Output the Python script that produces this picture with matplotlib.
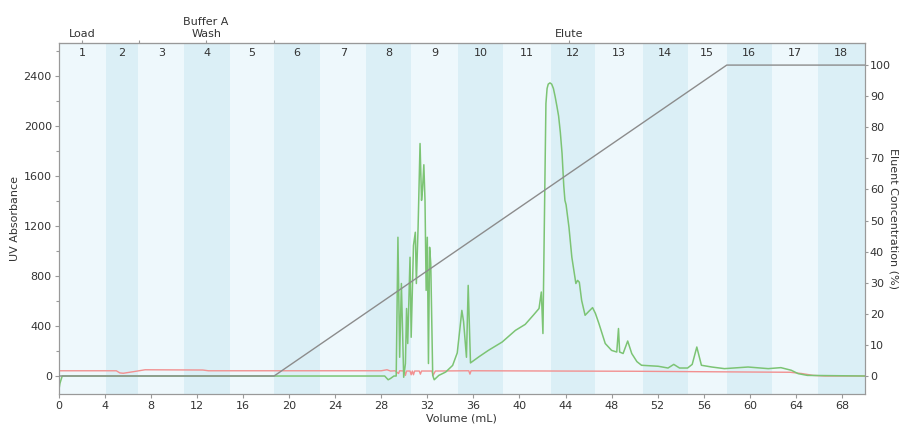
import matplotlib
matplotlib.use("Agg")
import matplotlib.pyplot as plt
from matplotlib.ticker import FixedLocator
import matplotlib.transforms as mtransforms

# ---------------- data ----------------
fraction_edges = [0, 4.1, 6.9, 10.9, 14.85, 18.7, 22.7, 26.7, 30.6, 34.7, 38.6,
                  42.7, 46.6, 50.7, 54.6, 58.0, 61.9, 65.9, 70]
fraction_labels = [str(i) for i in range(1, 19)]

stage_positions = [2.0, 12.8, 44.3]
stage_labels = ["Load", "Buffer A\nWash", "Elute"]
stage_bounds = [7.0, 18.7]

green_x = [0, 0.1, 0.3, 28.3, 28.6, 28.8, 29.1, 29.3, 29.45, 29.6, 29.75, 29.95,
           30.1, 30.2, 30.3, 30.5, 30.6, 30.8, 30.96, 31.05, 31.2, 31.37, 31.5,
           31.58, 31.7, 31.8, 31.9, 32.0, 32.1, 32.2, 32.3, 32.47, 32.6, 33.0,
           33.6, 34.2, 34.6, 34.85, 35.0, 35.15, 35.4, 35.55, 35.75, 36.5, 37.3,
           38.5, 39.65, 40.5, 41.2, 41.7, 41.9, 42.04, 42.2, 42.3, 42.4, 42.5,
           42.65, 42.8, 42.95, 43.1, 43.25, 43.4, 43.55, 43.7, 43.85, 43.95,
           44.05, 44.3, 44.55, 44.9, 45.05, 45.2, 45.4, 45.7, 46.0, 46.35, 46.6,
           46.9, 47.45, 48.0, 48.45, 48.6, 48.7, 49.0, 49.4, 49.75, 50.2, 50.6,
           52.05, 52.9, 53.4, 53.9, 54.6, 55.0, 55.4, 55.8, 56.7, 57.8, 59.85,
           61.6, 62.7, 63.6, 64.2, 65.0, 70]
green_y = [-120, -60, 0, 0, -30, -20, 0, 0, 1110, 150, 740, -10,
           100, 540, 260, 950, 310, 1045, 1150, 740, 1190, 1860, 1405,
           1485, 1690, 1405, 685, 1110, 100, 1030, 900, 5, -30, 5,
           32, 85, 185, 395, 525, 435, 150, 725, 105, 155, 205,
           272, 365, 413, 486, 540, 672, 340, 1485, 2180, 2300, 2335,
           2345, 2335, 2300, 2235, 2160, 2080, 1950, 1780, 1520, 1405,
           1370, 1190, 950, 740, 765, 750, 605, 486, 515, 547, 500,
           420, 260, 205, 192, 380, 192, 180, 280, 180, 115, 86,
           78, 64, 93, 64, 64, 93, 232, 86, 72, 59, 72,
           59, 67, 46, 19, 5, 0]

red_x = [0, 5.0, 5.3, 5.6, 6.5, 7.5, 12.5, 13.0, 28.0, 28.5, 28.8, 29.2, 29.5,
         29.6, 30.0, 30.1, 30.2, 30.5, 30.6, 30.7, 30.8, 30.9, 31.3, 31.4, 31.5,
         32.4, 32.5, 32.7, 35.6, 35.7, 35.8, 50.0, 60.0, 63.5, 64.5, 65.5, 66.5, 70]
red_y = [42, 42, 25, 22, 35, 50, 48, 42, 42, 50, 40, 42, 20,
         42, 40, 5, 40, 40, 10, 40, 10, 40, 40, 15, 40,
         40, 5, 40, 42, 15, 42, 38, 32, 30, 20, 5, 0, 0]

gradient_x = [0, 18.7, 58.0, 70]
gradient_y = [0, 0, 100, 100]

# ---------------- figure ----------------
plt.rcParams['font.family'] = ['DejaVu Sans']
fig = plt.figure(figsize=(9.01, 4.25), dpi=100)
ax = fig.add_axes([0.0652, 0.0729, 0.8948, 0.8259])
ax2 = ax.twinx()

light = '#eef8fc'
dark = '#dbeff6'
for i in range(len(fraction_edges) - 1):
    ax.axvspan(fraction_edges[i], fraction_edges[i + 1],
               color=light if i % 2 == 0 else dark, lw=0, zorder=0)

trans = mtransforms.blended_transform_factory(ax.transData, ax.transAxes)
for i, lab in enumerate(fraction_labels):
    cx = (fraction_edges[i] + fraction_edges[i + 1]) / 2
    ax.text(cx, 0.972, lab, transform=trans, ha='center', va='center',
            fontsize=8, color='#333333', zorder=5)

ax.plot(red_x, red_y, color='#f29090', lw=1.0, zorder=3)
ax.plot(green_x, green_y, color='#7cc474', lw=1.1, zorder=4)
ax2.plot(gradient_x, gradient_y, color='#8c8c8c', lw=1.0, zorder=3)

ax.set_xlim(0, 70)
ax.set_ylim(-144, 2664)
ax2.set_ylim(-5.8, 107.1)

ax.xaxis.set_major_locator(FixedLocator(list(range(0, 69, 4))))
ax.yaxis.set_major_locator(FixedLocator(list(range(0, 2401, 400))))
ax.yaxis.set_minor_locator(FixedLocator(list(range(200, 2601, 400))))
ax2.yaxis.set_major_locator(FixedLocator(list(range(0, 101, 10))))

spine_c = '#999999'
for a in (ax, ax2):
    for s in a.spines.values():
        s.set_color(spine_c)
        s.set_linewidth(0.8)
    a.tick_params(colors=spine_c, labelcolor='#333333', labelsize=8,
                  length=3, width=0.8, pad=2)
    a.tick_params(which='minor', colors=spine_c, length=2, width=0.8)
ax2.tick_params(length=2, pad=1.5)

ax.set_xlabel('Volume (mL)', fontsize=8, color='#333333', labelpad=2)
ax.set_ylabel('UV Absorbance', fontsize=8, color='#333333',
              ha='center', va='center')
ax.yaxis.set_label_coords(-0.054, 0.5)
ax2.set_ylabel('Eluent Concentration (%)', fontsize=8, color='#333333',
               rotation=270, ha='center', va='center')
ax2.yaxis.set_label_coords(1.035, 0.5)

top = ax.secondary_xaxis('top')
top.xaxis.set_major_locator(FixedLocator(stage_positions))
top.set_xticklabels(stage_labels)
top.xaxis.set_minor_locator(FixedLocator(stage_bounds))
top.tick_params(colors=spine_c, labelcolor='#333333', labelsize=8,
                length=2, width=0.8, pad=1)
top.tick_params(which='minor', colors=spine_c, length=2, width=0.8)
top.spines['top'].set_color(spine_c)

fig.savefig('out.png', dpi=100)
